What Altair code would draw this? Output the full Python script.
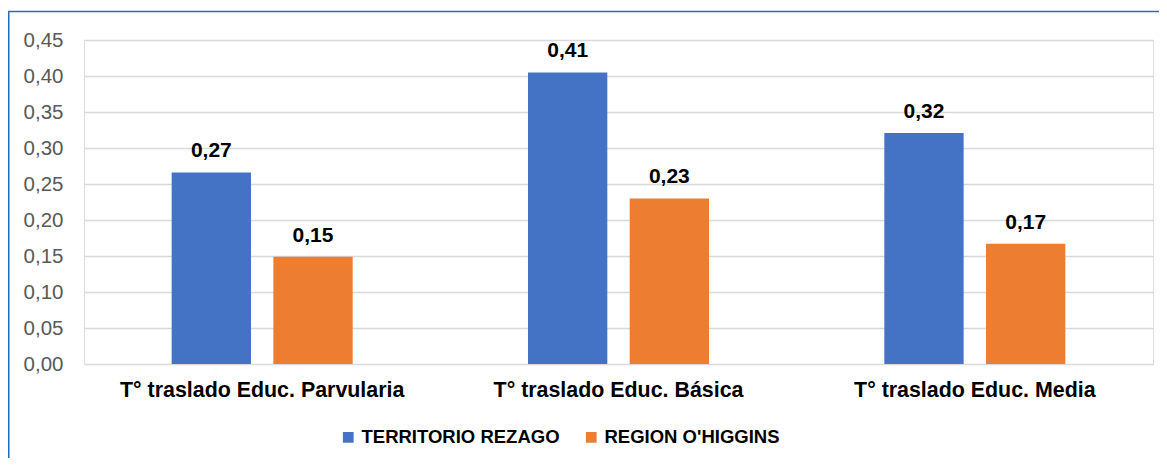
import altair as alt
import pandas as pd

categorias = ["T° traslado Educ. Parvularia", "T° traslado Educ. Básica", "T° traslado Educ. Media"]
series = ["TERRITORIO REZAGO", "REGION O'HIGGINS"]
territorio = [0.266, 0.405, 0.321]
region = [0.149, 0.230, 0.167]
colores = ["#4472C4", "#ED7D31"]

rows = []
for i, c in enumerate(categorias):
    rows.append({"cat": c, "serie": series[0], "valor": territorio[i]})
    rows.append({"cat": c, "serie": series[1], "valor": region[i]})
df = pd.DataFrame(rows)

FONT = "Liberation Sans"

base = alt.Chart(df).encode(
    x=alt.X("cat:N", sort=categorias,
            scale=alt.Scale(paddingInner=0.492, paddingOuter=0.246),
            axis=alt.Axis(title=None, labelAngle=0, labelFontSize=21.4, labelFontWeight="bold",
                          labelColor="black", labelFont=FONT, ticks=False, domain=False,
                          labelPadding=15, labelLimit=400)),
    xOffset=alt.XOffset("serie:N", sort=series,
                        scale=alt.Scale(paddingInner=0.22, paddingOuter=0)),
    y=alt.Y("valor:Q", scale=alt.Scale(domain=[0, 0.45], nice=False),
            axis=alt.Axis(title=None, values=[0, 0.05, 0.1, 0.15, 0.2, 0.25, 0.3, 0.35, 0.4, 0.45],
                          labelExpr="replace(format(datum.value, '.2f'), '.', ',')",
                          labelFontSize=20.5, labelColor="#595959", labelFont=FONT,
                          ticks=False, domain=False, labelPadding=21,
                          gridColor="#D9D9D9", gridWidth=1.3)),
)

bars = base.mark_bar().encode(
    color=alt.Color("serie:N", sort=series,
                    scale=alt.Scale(domain=series, range=colores),
                    legend=alt.Legend(title=None, orient="none", direction="horizontal",
                                      legendX=255, legendY=388, symbolType="square",
                                      symbolSize=115, symbolStrokeWidth=0,
                                      labelFontSize=18.5, labelFontWeight="bold",
                                      labelColor="black", labelFont=FONT,
                                      labelLimit=400, columnPadding=22, labelOffset=4))
)

texts = base.mark_text(dy=-15, baseline="alphabetic", fontSize=21, fontWeight="bold",
                       font=FONT, color="black").transform_calculate(
    label="replace(format(datum.valor, '.2f'), '.', ',')"
).encode(text="label:N")

frame = alt.Chart(pd.DataFrame({"a": [0]})).mark_rect(
    filled=False, stroke="#1F6FBF", strokeWidth=1.5
).encode(x=alt.value(-75.25), x2=alt.value(1200), y=alt.value(-28.5), y2=alt.value(500))

chart = alt.layer(bars, texts, frame).properties(
    width=1069, height=324,
    autosize=alt.AutoSizeParams(type="none"),
    padding={"left": 76, "top": 32, "right": 6, "bottom": 94},
).configure_view(stroke=None).configure(background="white")

chart.save("out.html", embed_options={"renderer": "svg", "actions": False})
